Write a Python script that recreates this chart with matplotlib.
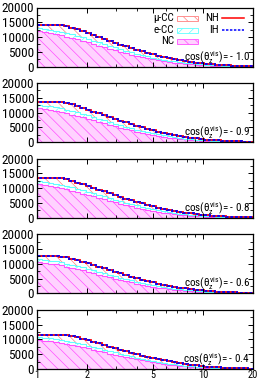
import numpy as np
import matplotlib
matplotlib.use("Agg")
import matplotlib.pyplot as plt
from matplotlib.patches import Rectangle
from matplotlib.lines import Line2D
from matplotlib.ticker import FixedLocator, NullFormatter, MultipleLocator, LogLocator

fam = "Roboto Condensed"
plt.rcParams["font.family"] = [fam, "Liberation Sans", "DejaVu Sans"]
plt.rcParams["mathtext.fontset"] = "custom"
plt.rcParams["mathtext.rm"] = fam
plt.rcParams["mathtext.it"] = fam
plt.rcParams["hatch.linewidth"] = 0.5

# visible energy bins, 1 - 20 GeV on a log axis
n_bins = 40
e_min, e_max = 1.0, 20.0

cos_labels = ["- 1.0", "- 0.9", "- 0.8", "- 0.6", "- 0.4"]
legend_labels = ["\u03bc-CC", "e-CC", "NC", "NH", "IH"]

nc_m10 = [12000, 11700, 11350, 11000, 10600, 10150, 9700, 9200, 8700, 8200, 7650, 7100, 6550, 6000, 5500, 5000, 4500, 4050, 3600, 3200,
          2800, 2450, 2130, 1840, 1570, 1330, 1120, 930, 770, 630, 510, 410, 330, 260, 200, 155, 120, 90, 70, 55]
ecc_m10 = [1000, 1050, 1100, 1150, 1200, 1200, 1200, 1200, 1200, 1150, 1150, 1100, 1050, 1000, 950, 900, 850, 800, 750, 700,
           650, 600, 550, 500, 450, 400, 350, 300, 260, 230, 200, 170, 140, 115, 95, 75, 60, 45, 35, 25]
mucc_m10 = [1100, 1350, 1650, 1950, 2250, 2350, 2300, 2200, 2100, 2000, 1900, 1850, 1800, 1750, 1650, 1550, 1500, 1400, 1300, 1200,
            1150, 1050, 970, 860, 780, 720, 630, 570, 500, 440, 380, 320, 270, 225, 185, 150, 120, 95, 75, 60]

nc_m09 = [11600, 11300, 11000, 10650, 10250, 9800, 9350, 8900, 8400, 7900, 7400, 6900, 6350, 5850, 5350, 4850, 4400, 3950, 3520, 3120,
          2740, 2400, 2080, 1800, 1540, 1300, 1100, 910, 750, 620, 500, 400, 320, 250, 195, 150, 115, 88, 68, 52]
ecc_m09 = [1000, 1050, 1100, 1150, 1150, 1150, 1150, 1150, 1150, 1120, 1100, 1060, 1020, 970, 920, 870, 820, 770, 720, 670,
           620, 570, 520, 470, 430, 380, 330, 290, 250, 220, 190, 160, 135, 110, 90, 72, 57, 44, 34, 25]
mucc_m09 = [1100, 1350, 1600, 1900, 2200, 2300, 2250, 2150, 2050, 1950, 1850, 1800, 1750, 1700, 1600, 1500, 1430, 1350, 1260, 1170,
            1100, 1010, 930, 840, 760, 700, 620, 550, 490, 430, 370, 310, 265, 220, 180, 145, 118, 92, 72, 58]

nc_m08 = [11400, 11100, 10800, 10450, 10050, 9600, 9150, 8700, 8200, 7700, 7200, 6700, 6200, 5700, 5220, 4750, 4300, 3860, 3450, 3060,
          2690, 2350, 2040, 1760, 1510, 1280, 1080, 900, 740, 610, 490, 395, 315, 245, 190, 148, 113, 86, 66, 50]
ecc_m08 = [950, 1000, 1050, 1100, 1100, 1100, 1100, 1100, 1100, 1080, 1060, 1030, 990, 940, 890, 840, 790, 740, 690, 640,
           590, 545, 500, 455, 410, 365, 320, 280, 245, 215, 185, 155, 130, 108, 88, 70, 55, 43, 33, 24]
mucc_m08 = [1050, 1300, 1550, 1850, 2150, 2250, 2200, 2100, 2000, 1900, 1820, 1750, 1700, 1650, 1560, 1470, 1400, 1320, 1230, 1150,
            1070, 990, 910, 830, 750, 690, 610, 540, 480, 420, 360, 305, 260, 215, 176, 142, 115, 90, 70, 56]

nc_m06 = [10600, 10350, 10100, 9800, 9450, 9050, 8650, 8200, 7750, 7300, 6820, 6350, 5880, 5420, 4960, 4520, 4100, 3690, 3300, 2930,
          2580, 2260, 1960, 1700, 1460, 1240, 1050, 870, 720, 590, 480, 385, 305, 240, 186, 144, 110, 84, 64, 48]
ecc_m06 = [900, 950, 1000, 1030, 1050, 1050, 1050, 1050, 1040, 1020, 1000, 970, 930, 890, 850, 800, 750, 700, 650, 610,
           560, 515, 470, 430, 390, 345, 305, 268, 235, 205, 175, 148, 124, 103, 84, 67, 53, 41, 31, 23]
mucc_m06 = [1000, 1200, 1400, 1670, 1950, 2100, 2050, 1980, 1900, 1820, 1740, 1680, 1620, 1570, 1490, 1410, 1340, 1260, 1180, 1100,
            1030, 950, 870, 790, 720, 660, 590, 520, 460, 400, 345, 295, 250, 207, 170, 138, 110, 87, 68, 54]

nc_m04 = [9800, 9600, 9400, 9150, 8850, 8500, 8150, 7750, 7350, 6920, 6480, 6050, 5610, 5180, 4760, 4350, 3950, 3570, 3200, 2850,
          2520, 2210, 1920, 1660, 1430, 1220, 1030, 860, 710, 580, 470, 378, 300, 236, 183, 141, 108, 82, 62, 47]
ecc_m04 = [850, 900, 950, 980, 1000, 1000, 1000, 1000, 990, 970, 950, 920, 890, 850, 810, 770, 720, 675, 630, 585,
           540, 495, 455, 415, 375, 335, 295, 260, 228, 198, 170, 144, 120, 100, 82, 65, 51, 40, 30, 22]
mucc_m04 = [950, 1100, 1250, 1470, 1750, 2000, 2000, 1950, 1880, 1800, 1720, 1660, 1600, 1550, 1470, 1390, 1320, 1240, 1160, 1090,
            1010, 935, 855, 780, 710, 650, 580, 510, 450, 395, 340, 290, 245, 204, 167, 135, 108, 85, 67, 53]

panels = [
    (nc_m10, ecc_m10, mucc_m10),
    (nc_m09, ecc_m09, mucc_m09),
    (nc_m08, ecc_m08, mucc_m08),
    (nc_m06, ecc_m06, mucc_m06),
    (nc_m04, ecc_m04, mucc_m04),
]

W, H = 266, 382
fig = plt.figure(figsize=(W / 100, H / 100), dpi=100)
edges = np.logspace(np.log10(e_min), np.log10(e_max), n_bins + 1)

mu_col, e_col, nc_col = "#ff8080", "#60ffff", "#ff50ff"
nc_face = "#ffd2ff"
dash = (0, (1.6, 1.0))
fills = [("white", mu_col, "\\\\\\"), ("white", e_col, "///"), (nc_face, nc_col, "\\\\\\")]

for i, (nc, ecc, mucc) in enumerate(panels):
    top_px = 7.5 + 75.6 * i
    ax = fig.add_axes([37 / W, 1 - (top_px + 59) / H, 216 / W, 59 / H])
    nc = np.array(nc, float)
    lvl_e = nc + np.array(ecc, float)
    lvl_mu = lvl_e + np.array(mucc, float)

    ax.stairs(nc, edges, baseline=0, fill=True, facecolor=nc_face, edgecolor=nc_col, hatch="\\\\\\", linewidth=0)
    ax.stairs(lvl_e, edges, baseline=nc, fill=True, facecolor="white", edgecolor=e_col, hatch="///", linewidth=0)
    ax.stairs(lvl_mu, edges, baseline=lvl_e, fill=True, facecolor="white", edgecolor=mu_col, hatch="\\\\\\", linewidth=0)
    ax.stairs(nc, edges, color=nc_col, linewidth=0.8)
    ax.stairs(lvl_e, edges, color=e_col, linewidth=0.8)
    ax.stairs(lvl_mu, edges, color="red", linewidth=1.3)
    ax.stairs(lvl_mu, edges, color="blue", linewidth=1.3, linestyle=dash)

    ax.set_xscale("log")
    ax.set_xlim(e_min, e_max)
    ax.set_ylim(0, 20000)
    ax.xaxis.set_major_locator(FixedLocator([1, 2, 5, 10, 20]))
    ax.xaxis.set_minor_locator(LogLocator(subs=np.arange(2, 10)))
    ax.xaxis.set_minor_formatter(NullFormatter())
    ax.yaxis.set_major_locator(MultipleLocator(5000))
    ax.yaxis.set_minor_locator(MultipleLocator(2500))
    ax.tick_params(which="both", direction="in", top=True, right=True, labelsize=9.5, pad=2)
    ax.tick_params(axis="x", labelsize=7.5, pad=0.8)
    ax.tick_params(which="major", length=3.5, width=0.7)
    ax.tick_params(which="minor", length=2, width=0.6)
    for s in ax.spines.values():
        s.set_linewidth(0.9)
    if i < len(panels) - 1:
        ax.set_xticklabels([])
    else:
        ax.set_xticklabels(["1", "2", "5", "10", "20"])

    ax.text(0.988, 0.10, r"cos($\theta_z^{vis}$)= " + cos_labels[i], transform=ax.transAxes,
            ha="right", va="baseline", fontsize=8)

    if i == 0:
        # gnuplot-style key: labels to the left of the samples
        rows = [0.814, 0.615, 0.424]
        for (fc, ec, hat), lab, y in zip(fills, legend_labels[:3], rows):
            ax.add_patch(Rectangle((0.648, y - 0.045), 0.097, 0.09, transform=ax.transAxes,
                                   facecolor=fc, edgecolor=ec, hatch=hat, linewidth=0.6))
            ax.text(0.634, y, lab, transform=ax.transAxes, ha="right", va="center", fontsize=8)
        for (col, ls), lab, y in zip([("red", "-"), ("blue", dash)], legend_labels[3:], rows[:2]):
            ax.add_line(Line2D([0.856, 0.958], [y, y], transform=ax.transAxes, color=col,
                               linewidth=1.1, linestyle=ls))
            ax.text(0.843, y, lab, transform=ax.transAxes, ha="right", va="center", fontsize=8)

fig.savefig("out.png", dpi=100)
